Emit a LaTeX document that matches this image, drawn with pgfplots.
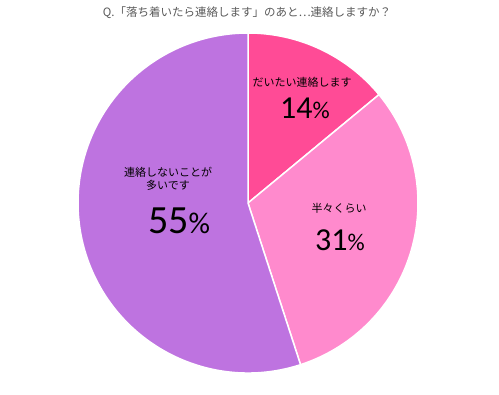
\documentclass[border=0pt]{standalone}
\usepackage{pgfplots}
\pgfplotsset{compat=1.18}
\usepackage{fontspec}
\setmainfont{Carlito}
\newfontfamily\jp{Noto Sans CJK JP}
\definecolor{c1}{HTML}{FF4B96}
\definecolor{c2}{HTML}{FF8ACD}
\definecolor{c3}{HTML}{BE73E0}
\definecolor{tgray}{HTML}{595959}
\begin{document}
\begin{tikzpicture}
\begin{axis}[scale only axis, width=499bp, height=385bp,
  xmin=0, xmax=499, ymin=0, ymax=385, hide axis, clip=false]
\path (axis cs:0,0) rectangle (axis cs:499,385);
% shares: 14, 31, 55 (percent), clockwise from 12 o'clock
\filldraw[fill=c1, draw=white, line width=1.5bp] (axis cs:248,182) -- ++(90:170bp) arc[start angle=90, end angle={90-14*3.6}, radius=170bp] -- cycle;
\filldraw[fill=c2, draw=white, line width=1.5bp] (axis cs:248,182) -- ++({90-14*3.6}:170bp) arc[start angle={90-14*3.6}, end angle={90-45*3.6}, radius=170bp] -- cycle;
\filldraw[fill=c3, draw=white, line width=1.5bp] (axis cs:248,182) -- ++({90-45*3.6}:170bp) arc[start angle={90-45*3.6}, end angle={90-100*3.6}, radius=170bp] -- cycle;
\node[font=\jp\fontsize{11.5bp}{13bp}\selectfont, text=tgray] at (axis cs:247,372) {Q.「落ち着いたら連絡します」のあと…連絡しますか？};
\node[font=\jp\fontsize{11bp}{13bp}\selectfont] at (axis cs:302,303) {だいたい連絡します};
\node[font=\fontsize{32bp}{34bp}\selectfont] at (axis cs:305,277) {14{\fontsize{24bp}{26bp}\selectfont\%}};
\node[font=\jp\fontsize{11bp}{13bp}\selectfont] at (axis cs:339,177) {半々くらい};
\node[font=\fontsize{32bp}{34bp}\selectfont] at (axis cs:340,145) {31{\fontsize{24bp}{26bp}\selectfont\%}};
\node[font=\jp\fontsize{11bp}{13bp}\selectfont, align=center] at (axis cs:168,206) {連絡しないことが\\多いです};
\node[font=\fontsize{40bp}{42bp}\selectfont] at (axis cs:179,164) {55{\fontsize{30bp}{32bp}\selectfont\%}};
\end{axis}
\end{tikzpicture}
\end{document}
